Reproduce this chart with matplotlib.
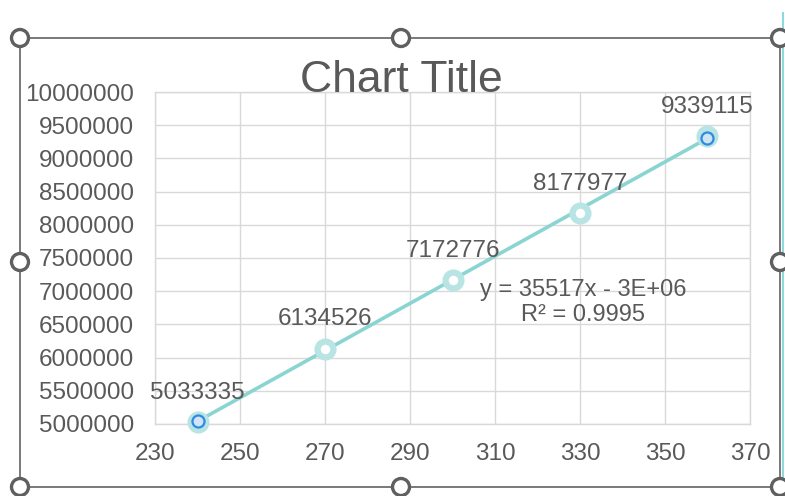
import matplotlib.pyplot as plt
from matplotlib.patches import Circle, Rectangle
import numpy as np

plt.rcParams['font.family'] = ['Liberation Sans', 'DejaVu Sans']

# data
x_vals = [240, 270, 300, 330, 360]
y_vals = [5033335, 6134526, 7172776, 8177977, 9339115]
x_ticks = [230, 250, 270, 290, 310, 330, 350, 370]
y_ticks = [5000000, 5500000, 6000000, 6500000, 7000000,
           7500000, 8000000, 8500000, 9000000, 9500000, 10000000]

txt = '#595959'
grid = '#d9d9d9'
teal = '#8ad4d2'

fig = plt.figure(figsize=(7.85, 4.96), dpi=100)
ax = fig.add_axes([0.1975, 0.1452, 0.7579, 0.6693])

ax.set_xlim(230, 370)
ax.set_ylim(5000000, 10000000)
ax.set_xticks(x_ticks)
ax.set_yticks(y_ticks)
ax.set_xticklabels([str(t) for t in x_ticks])
ax.set_yticklabels([str(t) for t in y_ticks])
ax.grid(True, color=grid, linewidth=1)
ax.set_axisbelow(True)
for s in ax.spines.values():
    s.set_color(grid)
    s.set_linewidth(1)
ax.tick_params(length=0, labelsize=17.5, labelcolor=txt)
ax.tick_params(axis='y', pad=15)
ax.tick_params(axis='x', pad=14)

# linear trendline
slope, icpt = np.polyfit(x_vals, y_vals, 1)
xs = np.array([x_vals[0], x_vals[-1]])
ax.plot(xs, slope * xs + icpt, color=teal, linewidth=2.6, zorder=3,
        solid_capstyle='butt')

# series markers
ax.scatter(x_vals, y_vals, s=130, facecolor='white', edgecolor='#b8e4e3',
           linewidth=4.5, zorder=4, clip_on=False)
# selection handles on trendline ends
ax.scatter(xs, slope * xs + icpt, s=75, facecolor='#cfe5f7', edgecolor='#2f8ae0',
           linewidth=1.6, zorder=5, clip_on=False)

for xv, yv in zip(x_vals, y_vals):
    ax.annotate(str(yv), (xv, yv), xytext=(0, 21), textcoords='offset points',
                ha='center', va='center', fontsize=17.5, color=txt, zorder=6)

ax.text(0.719, 0.366, 'y = 35517x - 3E+06\nR² = 0.9995', transform=ax.transAxes,
        ha='center', va='center', fontsize=17, color=txt, linespacing=1.2)

fig.text(401 / 785, 1 - 80 / 496, 'Chart Title', ha='center', va='center',
         fontsize=32, color=txt)

# chart frame with selection handles
ov = fig.add_axes([0, 0, 1, 1])
ov.set_xlim(0, 785)
ov.set_ylim(496, 0)
ov.axis('off')
ov.patch.set_alpha(0)
ov.plot([783, 783], [13, 496], color='#8fd8dc', linewidth=1.5)
ov.add_patch(Rectangle((20, 38), 760, 449, fill=False, edgecolor='#6e6e6e',
                       linewidth=1.3))
for hx, hy in [(20, 38), (401, 38), (780, 38), (20, 262), (780, 262),
               (20, 487), (401, 487), (780, 487)]:
    ov.add_patch(Circle((hx, hy), 8.5, facecolor='white', edgecolor='#5f5f5f',
                        linewidth=2.4, zorder=10))

plt.savefig('out.png', dpi=100)
